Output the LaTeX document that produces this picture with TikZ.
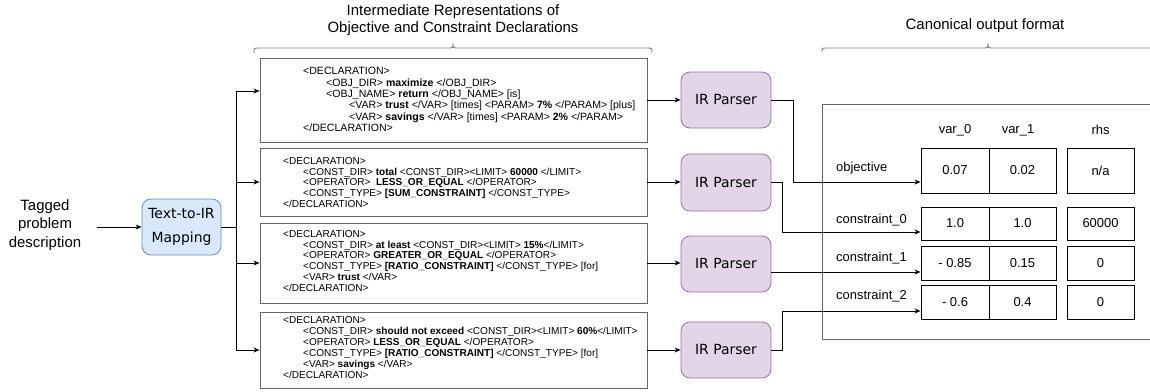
\documentclass[tikz,border=0pt]{standalone}
\usepackage{fontspec}
\setmainfont{Liberation Sans}
\newfontfamily\dejavu{DejaVu Sans}
\usetikzlibrary{arrows.meta}
\definecolor{bluefill}{HTML}{DAE8FC}
\definecolor{blueline}{HTML}{6C8EBF}
\definecolor{purfill}{HTML}{E1D5E7}
\definecolor{purline}{HTML}{9673A6}
\definecolor{boxline}{HTML}{666666}
\definecolor{bracecol}{HTML}{808080}
\begin{document}
\begin{tikzpicture}[x=1bp,y=-1bp,
  conn/.style={line width=0.9bp,draw=black},
  arr/.style={conn,-{Stealth[length=6bp,width=5bp]}},
  decl/.style={draw=boxline,line width=0.9bp,inner sep=0pt},
  decltext/.style={font=\fontsize{10.1}{11}\selectfont,align=left,inner sep=0pt,anchor=west},
  irbox/.style={draw=purline,fill=purfill,rounded corners=9bp,line width=0.8bp,minimum width=90bp,minimum height=56bp,inner sep=0pt,font=\dejavu\fontsize{14}{16}\selectfont},
  mapbox/.style={draw=blueline,fill=bluefill,rounded corners=9bp,line width=0.8bp,minimum width=79bp,minimum height=56bp,inner sep=0pt,align=center,font=\dejavu\fontsize{14}{24}\selectfont},
  cell/.style={draw=black,line width=0.9bp,inner sep=0pt,font=\fontsize{13}{15}\selectfont},
  lbl/.style={inner sep=0pt,font=\fontsize{13}{15}\selectfont},
  bigtext/.style={inner sep=0pt,align=center,font=\fontsize{15}{16.5}\selectfont},
  bracel/.style={draw=bracecol,line width=0.9bp}]
\fill[white] (0,0) rectangle (1150,391);
\useasboundingbox (0,0) rectangle (1150,391);

% titles and braces
\node[bigtext] (title) at (453,20) {Intermediate Representations of\\Objective and Constraint Declarations};
\node[bigtext] (canon) at (985,26) {Canonical output format};
\draw[bracel] (254,53) .. controls (254,48) .. (259,48) -- (448,48) .. controls (453,48) .. (453,43) .. controls (453,48) .. (458,48) -- (647,48) .. controls (652,48) .. (652,53);
\draw[bracel] (822,52) .. controls (822,48) .. (827,48) -- (983,48) .. controls (988,48) .. (988,43) .. controls (988,48) .. (993,48) -- (1150,48);

% left part
\node[bigtext,font=\fontsize{15}{18.5}\selectfont] (tag) at (45,225) {Tagged\\problem\\description};
\node[mapbox] (t2i) at (181.5,227) {\raisebox{-2bp}{Text-to-IR}\\\raisebox{-2bp}{Mapping}};
\coordinate (tagout) at (97,227);
\draw[arr] (tagout) -- (t2i.west);

% declaration boxes
\node[decl,minimum width=387bp,minimum height=84bp] (d1) at (453.5,100) {};
\node[decl,minimum width=387bp,minimum height=68bp] (d2) at (453.5,182) {};
\node[decl,minimum width=387bp,minimum height=80bp] (d3) at (453.5,263) {};
\node[decl,minimum width=387bp,minimum height=76bp] (d4) at (453.5,350) {};

\node[decltext,font=\fontsize{10.6}{11.3}\selectfont] (t1) at (303,99.5) {<DECLARATION>\\
\hspace*{23bp}<OBJ\_DIR> \textbf{maximize} </OBJ\_DIR>\\
\hspace*{23bp}<OBJ\_NAME> \textbf{return} </OBJ\_NAME> [is]\\
\hspace*{46bp}<VAR> \textbf{trust} </VAR> [times] <PARAM> \textbf{7\%} </PARAM> [plus]\\
\hspace*{46bp}<VAR> \textbf{savings} </VAR> [times] <PARAM> \textbf{2\%} </PARAM>\\
</DECLARATION>};

\node[decltext] (t2) at (283,182.5) {<DECLARATION>\\
\hspace*{20bp}<CONST\_DIR> \textbf{total} <CONST\_DIR><LIMIT> \textbf{60000} </LIMIT>\\
\hspace*{20bp}<OPERATOR> \ \textbf{LESS\_OR\_EQUAL} </OPERATOR>\\
\hspace*{20bp}<CONST\_TYPE> \textbf{[SUM\_CONSTRAINT]} </CONST\_TYPE>\\
</DECLARATION>};

\node[decltext] (t3) at (283,261) {<DECLARATION>\\
\hspace*{20bp}<CONST\_DIR> \textbf{at least} <CONST\_DIR><LIMIT> \textbf{15\%}</LIMIT>\\
\hspace*{20bp}<OPERATOR> \textbf{GREATER\_OR\_EQUAL} </OPERATOR>\\
\hspace*{20bp}<CONST\_TYPE> \textbf{[RATIO\_CONSTRAINT]} </CONST\_TYPE> [for]\\
\hspace*{20bp}<VAR> \textbf{trust} </VAR>\\
</DECLARATION>};

\node[decltext] (t4) at (283,347.5) {<DECLARATION>\\
\hspace*{20bp}<CONST\_DIR> \textbf{should not exceed} <CONST\_DIR><LIMIT> \textbf{60\%}</LIMIT>\\
\hspace*{20bp}<OPERATOR> \textbf{LESS\_OR\_EQUAL} </OPERATOR>\\
\hspace*{20bp}<CONST\_TYPE> \textbf{[RATIO\_CONSTRAINT]} </CONST\_TYPE> [for]\\
\hspace*{20bp}<VAR> \textbf{savings} </VAR>\\
</DECLARATION>};

% branching
\coordinate (br) at (236,227);
\coordinate (bt) at (236,91);
\coordinate (bb) at (236,350);
\draw[conn] (t2i.east) -- (br);
\draw[conn] (bt) -- (bb);
\draw[arr] (bt) -- (bt -| d1.west);
\draw[arr] (br |- d2) -- (d2.west);
\draw[arr] (br |- d3) -- (d3.west);
\draw[arr] (bb) -- (bb -| d4.west);

% IR parsers
\node[irbox] (ir1) at (726,100) {IR Parser};
\node[irbox,minimum height=57bp] (ir2) at (726,182.5) {IR Parser};
\node[irbox] (ir3) at (726,264) {IR Parser};
\node[irbox] (ir4) at (726,350) {IR Parser};
\draw[arr] (d1.east) -- (d1.east -| ir1.west);
\draw[arr] (d2.east) -- (d2.east -| ir2.west);
\draw[arr] (d3.east) -- (d3.east -| ir3.west);
\draw[arr] (d4.east) -- (d4.east -| ir4.west);

% output table
\draw[draw=boxline,line width=0.9bp] (1150,104) -- (822,104) -- (822,339) -- (1150,339);
\node[lbl] (h0) at (955,130) {var\_0};
\node[lbl] (h1) at (1018,130) {var\_1};
\node[lbl] (hr) at (1100.5,130) {rhs};

\node[lbl,anchor=west] (lo) at (836,168) {objective};
\node[lbl,anchor=west] (lc0) at (836,220) {constraint\_0};
\node[lbl,anchor=west] (lc1) at (836,258.5) {constraint\_1};
\node[lbl,anchor=west] (lc2) at (836,296) {constraint\_2};

\node[cell,minimum width=68bp,minimum height=45bp] (oa) at (955,170.5) {0.07};
\node[cell,minimum width=67bp,minimum height=45bp] (ob) at (1022.5,170.5) {0.02};
\node[cell,minimum width=67bp,minimum height=45bp] (orr) at (1100.5,170.5) {n/a};

\node[cell,minimum width=68bp,minimum height=33bp] (c0a) at (955,223.5) {1.0};
\node[cell,minimum width=67bp,minimum height=33bp] (c0b) at (1022.5,223.5) {1.0};
\node[cell,minimum width=67bp,minimum height=33bp] (c0r) at (1100.5,223.5) {60000};

\node[cell,minimum width=68bp,minimum height=34bp] (c1a) at (955,263) {- 0.85};
\node[cell,minimum width=67bp,minimum height=34bp] (c1b) at (1022.5,263) {0.15};
\node[cell,minimum width=67bp,minimum height=34bp] (c1r) at (1100.5,263) {0};

\node[cell,minimum width=68bp,minimum height=34bp] (c2a) at (955,302) {- 0.6};
\node[cell,minimum width=67bp,minimum height=34bp] (c2b) at (1022.5,302) {0.4};
\node[cell,minimum width=67bp,minimum height=34bp] (c2r) at (1100.5,302) {0};

% parser outputs
\coordinate (in0) at (oa.west |- 0,182);
\coordinate (in1) at (c0a.west |- 0,232);
\coordinate (in2) at (c1a.west |- 0,272);
\coordinate (in3) at (c2a.west |- 0,311);
\draw[arr] (ir1.east) -- ++(22,0) |- (in0);
\draw[arr] (ir2.east) -- ++(11,0) |- (in1);
\draw[arr] (ir3.east |- in2) -- (in2);
\draw[arr] (ir4.east) -- ++(11,0) |- (in3);
\end{tikzpicture}
\end{document}
